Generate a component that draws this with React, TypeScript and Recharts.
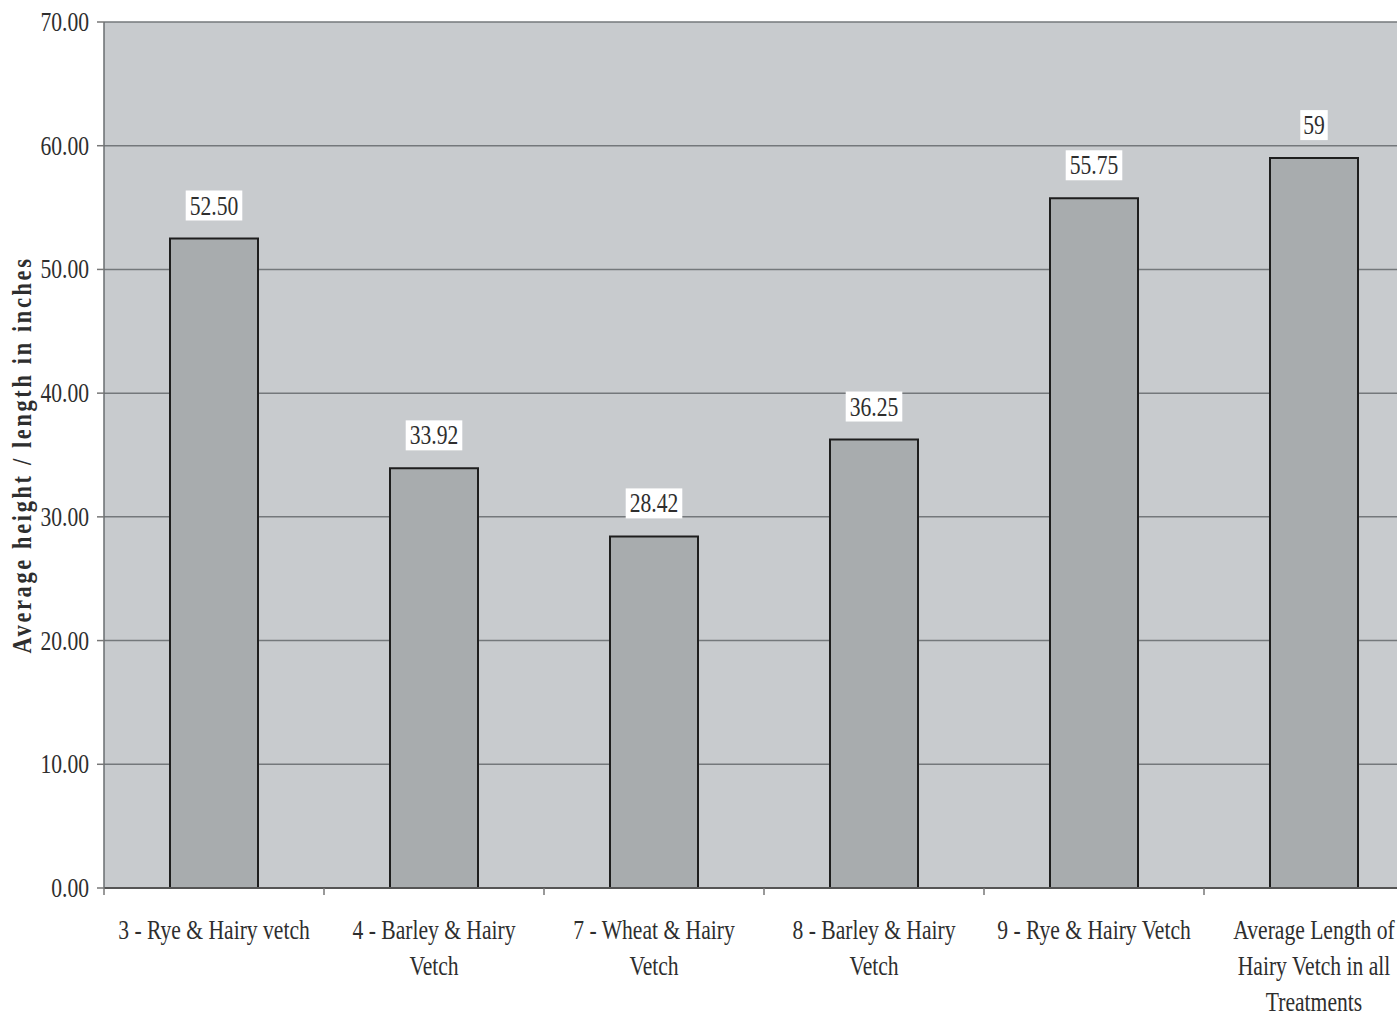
import React from 'react'
import {
  BarChart, Bar, XAxis, YAxis, CartesianGrid, LabelList,
} from 'recharts'

// Average height / length of hairy vetch per treatment (inches)
const treatments = [
  '3 - Rye & Hairy vetch',
  '4 - Barley & Hairy Vetch',
  '7 - Wheat & Hairy Vetch',
  '8 - Barley & Hairy Vetch',
  '9 - Rye & Hairy Vetch',
  'Average Length of Hairy Vetch in all Treatments',
]
const tickLines = [
  ['3 - Rye & Hairy vetch'],
  ['4 - Barley & Hairy', 'Vetch'],
  ['7 - Wheat & Hairy', 'Vetch'],
  ['8 - Barley & Hairy', 'Vetch'],
  ['9 - Rye & Hairy Vetch'],
  ['Average Length of', 'Hairy Vetch in all', 'Treatments'],
]
const heights = [52.5, 33.92, 28.42, 36.25, 55.75, 59]
const labelDecimals = [2, 2, 2, 2, 2, 0]
const yTicks = [0, 10, 20, 30, 40, 50, 60, 70]

const rows = treatments.map((name, i) => ({
  name,
  height: heights[i],
  label: heights[i].toFixed(labelDecimals[i]),
}))

const FONT = '"Liberation Serif", "Times New Roman", serif'
const TEXT = '#2e2e2e'
const SQUEEZE = 0.8

function XTick(props: any) {
  const { x, y, payload } = props
  const idx = payload.index ?? treatments.indexOf(payload.value)
  const half = payload.offset ?? 110
  const lines = tickLines[idx] || [payload.value]
  return (
    <g>
      <line x1={x - half} x2={x - half} y1={888} y2={895} stroke="#777" strokeWidth={1.5} />
      {lines.map((ln: string, k: number) => (
        <text
          key={k}
          transform={`translate(${x} ${y + 43 + k * 36}) scale(${SQUEEZE} 1)`}
          textAnchor="middle"
          fontFamily={FONT}
          fontSize={27}
          fill={TEXT}
        >
          {ln}
        </text>
      ))}
    </g>
  )
}

function YTick(props: any) {
  const { x, y, payload } = props
  return (
    <text
      transform={`translate(${x} ${y + 9}) scale(${SQUEEZE} 1)`}
      textAnchor="end"
      fontFamily={FONT}
      fontSize={27}
      fill={TEXT}
    >
      {Number(payload.value).toFixed(2)}
    </text>
  )
}

function ValueLabel(props: any) {
  const { x, y, width, value } = props
  const cx = x + width / 2
  const cy = y - 33
  const w = String(value).length * 27 * 0.45 * SQUEEZE + 8
  return (
    <g>
      <rect x={cx - w / 2} y={cy - 15} width={w} height={30} fill="#ffffff" />
      <text
        transform={`translate(${cx} ${cy + 9}) scale(${SQUEEZE} 1)`}
        textAnchor="middle"
        fontFamily={FONT}
        fontSize={27}
        fill={TEXT}
      >
        {value}
      </text>
    </g>
  )
}

export default function App() {
  return (
    <div
      style={{
        position: 'absolute', left: 0, top: 0, width: 1397, height: 1014,
        overflow: 'hidden', background: '#ffffff',
      }}
    >
      <BarChart
        width={1430}
        height={1014}
        data={rows}
        margin={{ top: 22, right: 6, left: 0, bottom: 0 }}
        barCategoryGap="30%"
      >
        <CartesianGrid
          vertical={false}
          stroke="#74787b"
          strokeWidth={1.5}
          fill="#c8cbce"
          fillOpacity={1}
        />
        <XAxis
          dataKey="name"
          height={126}
          interval={0}
          tickLine={false}
          axisLine={{ stroke: '#555', strokeWidth: 2 }}
          tick={<XTick />}
        />
        <YAxis
          width={104}
          domain={[0, 70]}
          ticks={yTicks}
          interval={0}
          tickSize={7}
          tickMargin={8}
          tickLine={{ stroke: '#777', strokeWidth: 1.5 }}
          axisLine={{ stroke: '#6a6e71', strokeWidth: 1.5 }}
          tick={<YTick />}
          label={{
            value: 'Average height / length in inches',
            angle: -90,
            position: 'insideLeft',
            offset: 0,
            content: (p: any) => {
              const vb = p.viewBox || {}
              const cy = (vb.y ?? 22) + (vb.height ?? 866) / 2
              return (
                <text
                  transform={`translate(31 ${cy}) rotate(-90) scale(${SQUEEZE} 1)`}
                  textAnchor="middle"
                  fontFamily={FONT}
                  fontSize={28}
                  fontWeight="bold"
                  letterSpacing={3.3}
                  fill={TEXT}
                >
                  Average height / length in inches
                </text>
              )
            },
          }}
        />
        <Bar
          dataKey="height"
          fill="#a8acae"
          stroke="#1e1e1e"
          strokeWidth={2}
          isAnimationActive={false}
        >
          <LabelList dataKey="label" content={<ValueLabel />} />
        </Bar>
      </BarChart>
    </div>
  )
}
